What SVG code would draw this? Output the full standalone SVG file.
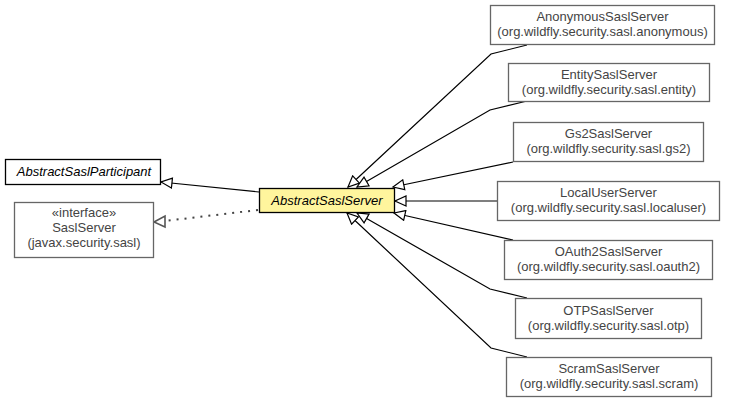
<svg xmlns="http://www.w3.org/2000/svg" width="732" height="403" viewBox="0 0 732 403">
<style>
text{font-family:"Liberation Sans",Arial,sans-serif;font-size:13px;text-anchor:middle;fill:#444}
.ext{fill:#fff;stroke:#666;stroke-width:1.3}
.main{fill:#fff;stroke:#000;stroke-width:1.3}
.hl{fill:#fff59d;stroke:#000;stroke-width:1.3}
.it{font-style:italic;fill:#000}
.e{fill:none;stroke:#000;stroke-width:1.2}
.d{fill:none;stroke:#444;stroke-width:2;stroke-dasharray:2,6}
</style>
<defs>
<marker id="tri" markerWidth="14" markerHeight="12" refX="12" refY="6" orient="auto" markerUnits="userSpaceOnUse">
<path d="M1,1 L12,6 L1,11 Z" fill="#fff" stroke="#000" stroke-width="1.2"/>
</marker>
</defs>
<g id="connectors">
<path class="e" d="M259,192 L161,182" marker-end="url(#tri)"/>
<path class="d" d="M258,210 L156,222"/>
<path d="M154,222 L165,216 L165,227 Z" fill="#fff" stroke="#555" stroke-width="1.6"/>
<path class="e" d="M527,45 L491,54 L348,187" marker-end="url(#tri)"/>
<path class="e" d="M527,101 L490,110 L357,187" marker-end="url(#tri)"/>
<path class="e" d="M513,162 L393,187" marker-end="url(#tri)"/>
<path class="e" d="M497,201 L395,201" marker-end="url(#tri)"/>
<path class="e" d="M513,240 L394,213" marker-end="url(#tri)"/>
<path class="e" d="M527,298 L490,289 L357,213" marker-end="url(#tri)"/>
<path class="e" d="M527,357 L491,348 L347,213" marker-end="url(#tri)"/>
</g>
<g id="AbstractSaslParticipant">
<rect class="main" x="5.5" y="159.5" width="155" height="25"/>
<text class="it" x="84" y="176">AbstractSaslParticipant</text>
</g>
<g id="SaslServer">
<rect class="ext" x="14.5" y="202.5" width="139" height="55"/>
<text x="84" y="217">«interface»</text>
<text x="84" y="232">SaslServer</text>
<text x="84" y="247">(javax.security.sasl)</text>
</g>
<g id="AbstractSaslServer">
<rect class="hl" x="259.5" y="188.5" width="135" height="24"/>
<text class="it" x="327" y="205">AbstractSaslServer</text>
</g>
<g id="AnonymousSaslServer">
<rect class="ext" x="490.5" y="5.5" width="224" height="39"/>
<text x="602.5" y="21">AnonymousSaslServer</text>
<text x="602.5" y="36">(org.wildfly.security.sasl.anonymous)</text>
</g>
<g id="EntitySaslServer">
<rect class="ext" x="508.5" y="63.5" width="201" height="38"/>
<text x="609" y="79">EntitySaslServer</text>
<text x="609" y="94">(org.wildfly.security.sasl.entity)</text>
</g>
<g id="Gs2SaslServer">
<rect class="ext" x="513.5" y="122.5" width="190" height="39"/>
<text x="608.5" y="138">Gs2SaslServer</text>
<text x="608.5" y="153">(org.wildfly.security.sasl.gs2)</text>
</g>
<g id="LocalUserServer">
<rect class="ext" x="497.5" y="181.5" width="222" height="39"/>
<text x="608.5" y="197">LocalUserServer</text>
<text x="608.5" y="212">(org.wildfly.security.sasl.localuser)</text>
</g>
<g id="OAuth2SaslServer">
<rect class="ext" x="504.5" y="240.5" width="208" height="39"/>
<text x="608.5" y="256">OAuth2SaslServer</text>
<text x="608.5" y="271">(org.wildfly.security.sasl.oauth2)</text>
</g>
<g id="OTPSaslServer">
<rect class="ext" x="515.5" y="298.5" width="186" height="40"/>
<text x="608.5" y="315">OTPSaslServer</text>
<text x="608.5" y="330">(org.wildfly.security.sasl.otp)</text>
</g>
<g id="ScramSaslServer">
<rect class="ext" x="506.5" y="357.5" width="205" height="39"/>
<text x="609" y="373">ScramSaslServer</text>
<text x="609" y="388">(org.wildfly.security.sasl.scram)</text>
</g>
</svg>
